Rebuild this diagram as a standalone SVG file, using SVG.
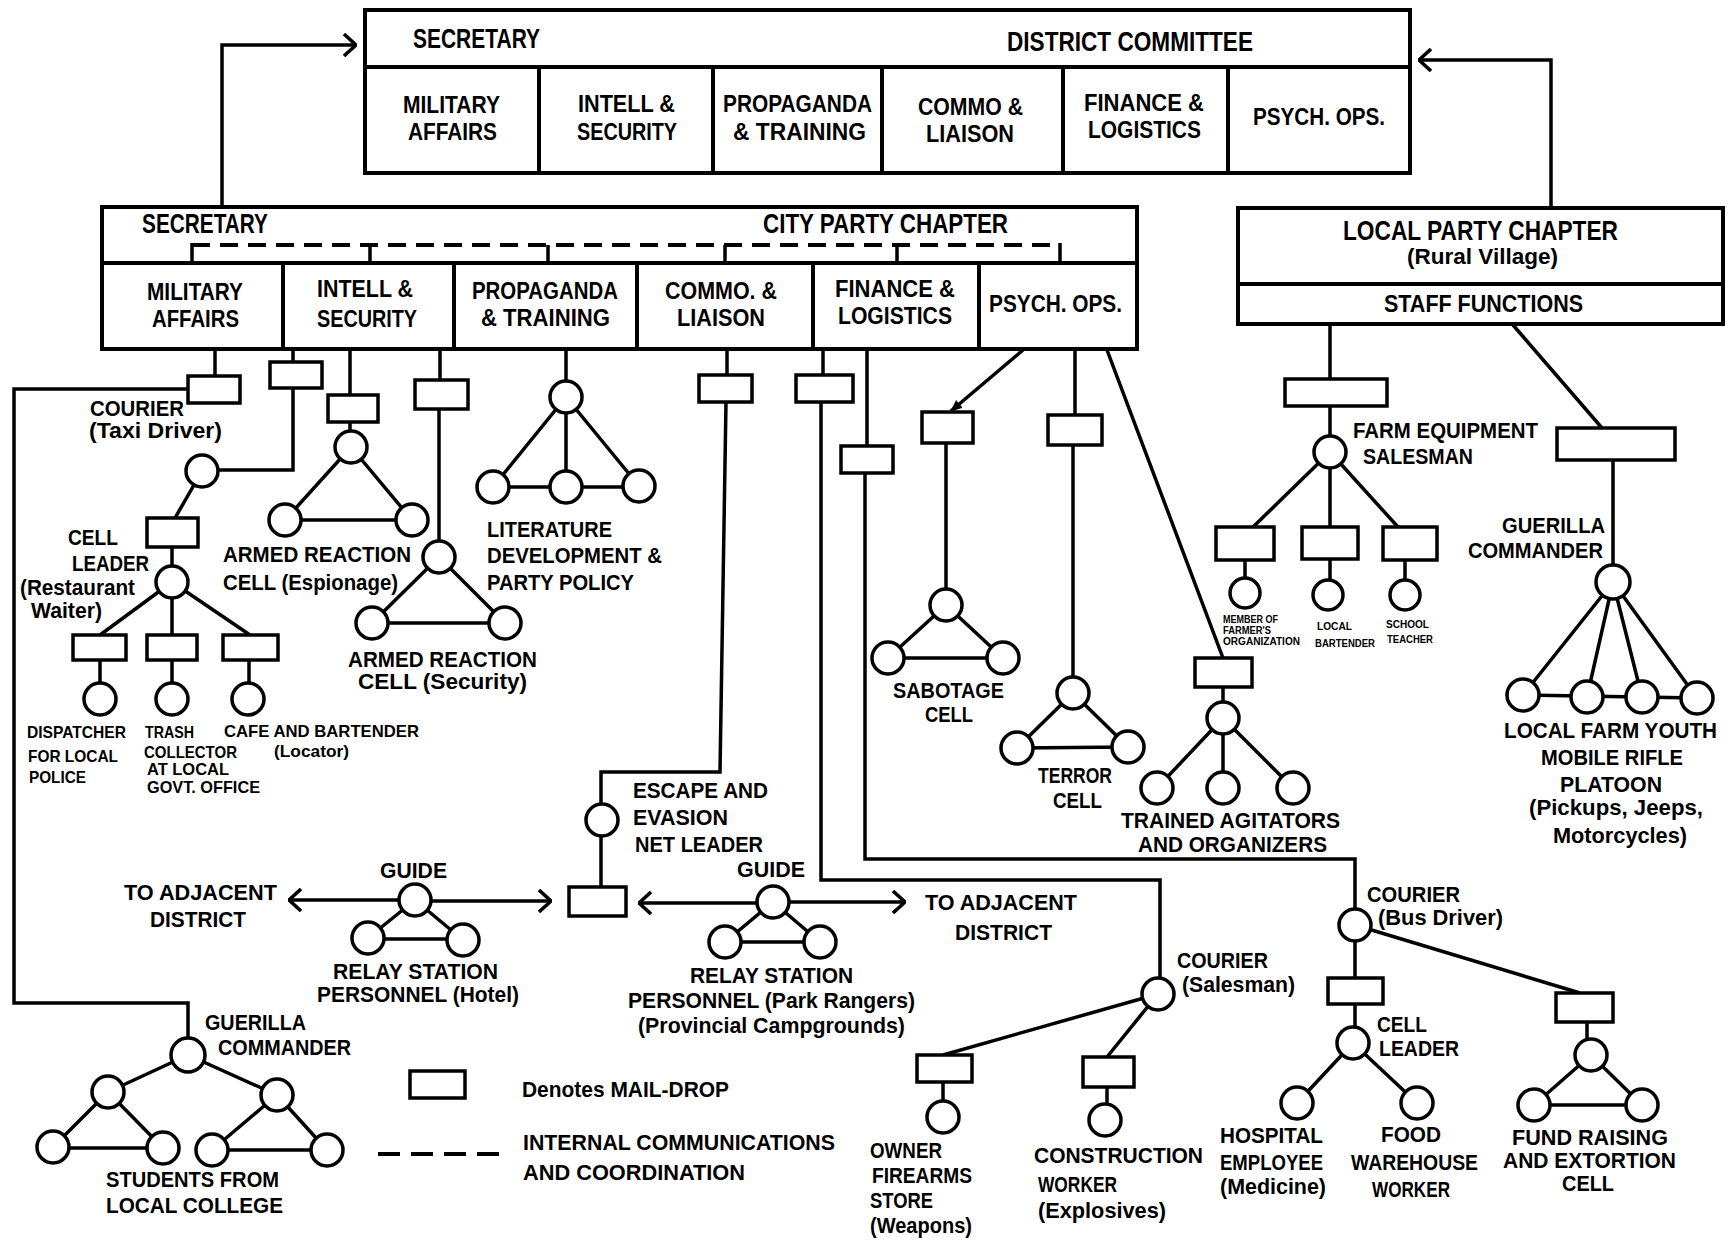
<svg xmlns="http://www.w3.org/2000/svg" width="1729" height="1240" viewBox="0 0 1729 1240">
<style>
.bx{fill:#fff;stroke:#000;stroke-width:4}
.md{fill:#fff;stroke:#000;stroke-width:3.5}
.c{fill:#fff;stroke:#000;stroke-width:3.5}
.ln{fill:none;stroke:#000;stroke-width:3.5;stroke-linejoin:miter}
.dash{fill:none;stroke:#000;stroke-width:4;stroke-dasharray:18 10}
text{font-family:"Liberation Sans",Arial,sans-serif;font-weight:bold;fill:#000}
.h{font-size:28px}.b{font-size:24px}.l{font-size:22px}.s{font-size:16.5px}.xs{font-size:10px}
</style>
<defs>
<marker id="ch" viewBox="0 0 14 24" refX="13" refY="12" markerWidth="14" markerHeight="24" markerUnits="userSpaceOnUse" orient="auto"><path d="M1,1 L13,12 L1,23" fill="none" stroke="#000" stroke-width="3.5"/></marker>
<marker id="tri" viewBox="0 0 12 12" refX="11" refY="6" markerWidth="12" markerHeight="12" markerUnits="userSpaceOnUse" orient="auto"><path d="M0,1 L12,6 L0,11 Z" fill="#000"/></marker>
</defs>
<rect width="1729" height="1240" fill="#fff"/>

<g id="connectors">
<path class="ln" d="M222,207 V45 H356" marker-end="url(#ch)"/>
<path class="ln" d="M1551,208 V60 H1419" marker-end="url(#ch)"/>
<path class="dash" d="M192,245 H1060"/>
<path class="ln" d="M192,243 V263 M370,245 V263 M548,245 V263 M725,245 V263 M897,245 V264 M1060,243 V265"/>
<path class="ln" d="M215,347 V376 M188,389 H14 V1003 H188 V1055"/>
<path class="ln" d="M293,347 V470 H202 M202,471 L175,518 M172,547 V582 M172,582 L100,635 M172,582 V635 M172,582 L250,635 M100,660 V699 M172,660 V699 M249,660 V699"/>
<path class="ln" d="M350,347 V447 M351,447 L285,520 M351,447 L412,520 M285,520 H412"/>
<path class="ln" d="M440,347 V380 M439,409 V557 M439,557 L372,623 M439,557 L505,623 M372,623 H505"/>
<path class="ln" d="M566,350 V397 M566,397 L493,487 M566,397 V487 M566,397 L639,486 M493,487 H639"/>
<path class="ln" d="M727,350 V375 M726,402 L720,772 H601 V887"/>
<path class="ln" d="M823,350 V375 M821,402 V880 H1160 V994"/>
<path class="ln" d="M867,350 V446 M865,473 V859 H1355 V925"/>
<path class="ln" d="M1023,350 L951,411" marker-end="url(#tri)"/>
<path class="ln" d="M946,443 V605 M946,605 L888,658 M946,605 L1003,658 M888,658 H1003"/>
<path class="ln" d="M1075,350 V415 M1073,445 V693 M1073,693 L1017,748 M1073,693 L1128,747 M1017,748 L1128,747"/>
<path class="ln" d="M1107,350 L1223,658 M1223,687 V718 M1223,718 L1157,788 M1223,718 V788 M1223,718 L1293,788"/>
<path class="ln" d="M1330,325 V452 M1330,452 L1253,527 M1330,452 V527 M1330,452 L1398,527 M1245,560 V593 M1330,559 V595 M1405,560 V595"/>
<path class="ln" d="M1513,325 L1602,428 M1613,460 V582 M1613,582 L1523,695 M1613,582 L1587,697 M1613,582 L1642,697 M1613,582 L1697,698 M1523,695 L1697,698"/>
<path class="ln" d="M1158,994 L943,1055 M1158,994 L1107,1057 M943,1082 V1117 M1107,1087 V1120"/>
<path class="ln" d="M1355,925 V1043 M1353,1043 L1297,1103 M1353,1043 L1417,1103 M1355,925 L1580,993 M1587,1022 V1055 M1591,1055 L1534,1105 M1591,1055 L1642,1105 M1534,1105 H1642"/>
<path class="ln" d="M415,900 L368,938 M415,900 L463,940 M368,939 H463"/>
<path class="ln" d="M399,900 H289" marker-end="url(#ch)"/>
<path class="ln" d="M431,901 H551" marker-end="url(#ch)"/>
<path class="ln" d="M773,902 L725,942 M773,902 L820,942 M725,942 H820"/>
<path class="ln" d="M757,903 H639" marker-end="url(#ch)"/>
<path class="ln" d="M789,902 H905" marker-end="url(#ch)"/>
<path class="ln" d="M188,1055 L108,1092 M188,1055 L277,1095 M108,1092 L53,1147 M108,1092 L163,1148 M53,1148 H163 M277,1095 L212,1150 M277,1095 L327,1150 M212,1150 H327"/>
</g>

<g id="district-committee">
<rect class="bx" x="365" y="10" width="1045" height="163"/>
<path class="ln" d="M365,67 H1410 M539,67 V173 M713,67 V173 M882,67 V173 M1063,67 V173 M1228,67 V173" style="stroke-width:4"/>
<text class="h" x="413" y="48" textLength="127" lengthAdjust="spacingAndGlyphs">SECRETARY</text>
<text class="h" x="1007" y="51" textLength="246" lengthAdjust="spacingAndGlyphs">DISTRICT COMMITTEE</text>
<text class="b" x="403" y="113" textLength="97" lengthAdjust="spacingAndGlyphs">MILITARY</text>
<text class="b" x="408" y="140" textLength="89" lengthAdjust="spacingAndGlyphs">AFFAIRS</text>
<text class="b" x="578" y="112" textLength="97" lengthAdjust="spacingAndGlyphs">INTELL &amp;</text>
<text class="b" x="577" y="140" textLength="100" lengthAdjust="spacingAndGlyphs">SECURITY</text>
<text class="b" x="723" y="112" textLength="149" lengthAdjust="spacingAndGlyphs">PROPAGANDA</text>
<text class="b" x="733" y="140" textLength="133" lengthAdjust="spacingAndGlyphs">&amp; TRAINING</text>
<text class="b" x="918" y="115" textLength="105" lengthAdjust="spacingAndGlyphs">COMMO &amp;</text>
<text class="b" x="926" y="142" textLength="88" lengthAdjust="spacingAndGlyphs">LIAISON</text>
<text class="b" x="1084" y="111" textLength="120" lengthAdjust="spacingAndGlyphs">FINANCE &amp;</text>
<text class="b" x="1088" y="138" textLength="113" lengthAdjust="spacingAndGlyphs">LOGISTICS</text>
<text class="b" x="1253" y="125" textLength="132" lengthAdjust="spacingAndGlyphs">PSYCH. OPS.</text>
</g>

<g id="city-party-chapter">
<rect class="bx" x="102" y="207" width="1035" height="142" style="fill:none"/>
<path class="ln" d="M102,263 H1137 M283,263 V349 M454,263 V349 M637,263 V349 M813,263 V349 M979,263 V349" style="stroke-width:4"/>
<text class="h" x="142" y="233" textLength="126" lengthAdjust="spacingAndGlyphs">SECRETARY</text>
<text class="h" x="763" y="233" textLength="245" lengthAdjust="spacingAndGlyphs">CITY PARTY CHAPTER</text>
<text class="b" x="147" y="300" textLength="96" lengthAdjust="spacingAndGlyphs">MILITARY</text>
<text class="b" x="152" y="327" textLength="87" lengthAdjust="spacingAndGlyphs">AFFAIRS</text>
<text class="b" x="317" y="297" textLength="96" lengthAdjust="spacingAndGlyphs">INTELL &amp;</text>
<text class="b" x="317" y="327" textLength="100" lengthAdjust="spacingAndGlyphs">SECURITY</text>
<text class="b" x="472" y="299" textLength="146" lengthAdjust="spacingAndGlyphs">PROPAGANDA</text>
<text class="b" x="481" y="326" textLength="129" lengthAdjust="spacingAndGlyphs">&amp; TRAINING</text>
<text class="b" x="665" y="299" textLength="112" lengthAdjust="spacingAndGlyphs">COMMO. &amp;</text>
<text class="b" x="677" y="326" textLength="88" lengthAdjust="spacingAndGlyphs">LIAISON</text>
<text class="b" x="835" y="297" textLength="120" lengthAdjust="spacingAndGlyphs">FINANCE &amp;</text>
<text class="b" x="838" y="324" textLength="114" lengthAdjust="spacingAndGlyphs">LOGISTICS</text>
<text class="b" x="989" y="312" textLength="133" lengthAdjust="spacingAndGlyphs">PSYCH. OPS.</text>
</g>

<g id="local-party-chapter">
<rect class="bx" x="1238" y="208" width="485" height="116"/>
<path class="ln" d="M1238,284 H1723" style="stroke-width:4"/>
<text class="h" x="1343" y="240" textLength="275" lengthAdjust="spacingAndGlyphs">LOCAL PARTY CHAPTER</text>
<text class="l" x="1407" y="264" textLength="151" lengthAdjust="spacingAndGlyphs">(Rural Village)</text>
<text class="b" x="1384" y="312" textLength="199" lengthAdjust="spacingAndGlyphs">STAFF FUNCTIONS</text>
</g>

<g id="courier-taxi">
<rect class="md" x="188" y="376" width="52" height="27"/>
<text class="l" x="90" y="416" textLength="94" lengthAdjust="spacingAndGlyphs">COURIER</text>
<text class="l" x="89" y="438" textLength="133" lengthAdjust="spacingAndGlyphs">(Taxi Driver)</text>
</g>

<g id="intell-cell">
<rect class="md" x="270" y="362" width="52" height="26"/>
<circle class="c" cx="202" cy="471" r="16"/>
<rect class="md" x="147" y="518" width="51" height="29"/>
<circle class="c" cx="172" cy="582" r="16"/>
<rect class="md" x="73" y="635" width="53" height="25"/>
<rect class="md" x="147" y="635" width="50" height="25"/>
<rect class="md" x="223" y="635" width="55" height="25"/>
<circle class="c" cx="100" cy="699" r="16"/>
<circle class="c" cx="172" cy="699" r="16"/>
<circle class="c" cx="248" cy="699" r="16"/>
<text class="l" x="68" y="545" textLength="50" lengthAdjust="spacingAndGlyphs">CELL</text>
<text class="l" x="72" y="571" textLength="77" lengthAdjust="spacingAndGlyphs">LEADER</text>
<text class="l" x="20" y="595" textLength="115" lengthAdjust="spacingAndGlyphs">(Restaurant</text>
<text class="l" x="31" y="618" textLength="71" lengthAdjust="spacingAndGlyphs">Waiter)</text>
<text class="s" x="27" y="738" textLength="99" lengthAdjust="spacingAndGlyphs">DISPATCHER</text>
<text class="s" x="28" y="762" textLength="90" lengthAdjust="spacingAndGlyphs">FOR LOCAL</text>
<text class="s" x="29" y="783" textLength="57" lengthAdjust="spacingAndGlyphs">POLICE</text>
<text class="s" x="145" y="738" textLength="49" lengthAdjust="spacingAndGlyphs">TRASH</text>
<text class="s" x="144" y="758" textLength="93" lengthAdjust="spacingAndGlyphs">COLLECTOR</text>
<text class="s" x="147" y="775" textLength="82" lengthAdjust="spacingAndGlyphs">AT LOCAL</text>
<text class="s" x="147" y="793" textLength="113" lengthAdjust="spacingAndGlyphs">GOVT. OFFICE</text>
<text class="s" x="224" y="737" textLength="195" lengthAdjust="spacingAndGlyphs">CAFE AND BARTENDER</text>
<text class="s" x="274" y="757" textLength="75" lengthAdjust="spacingAndGlyphs">(Locator)</text>
</g>

<g id="armed-reaction-espionage">
<rect class="md" x="328" y="395" width="50" height="27"/>
<circle class="c" cx="351" cy="447" r="16"/>
<circle class="c" cx="285" cy="520" r="16"/>
<circle class="c" cx="412" cy="520" r="16"/>
<text class="l" x="223" y="562" textLength="188" lengthAdjust="spacingAndGlyphs">ARMED REACTION</text>
<text class="l" x="223" y="590" textLength="175" lengthAdjust="spacingAndGlyphs">CELL (Espionage)</text>
</g>

<g id="armed-reaction-security">
<rect class="md" x="415" y="380" width="53" height="29"/>
<circle class="c" cx="439" cy="557" r="16"/>
<circle class="c" cx="372" cy="623" r="16"/>
<circle class="c" cx="505" cy="623" r="16"/>
<text class="l" x="348" y="667" textLength="189" lengthAdjust="spacingAndGlyphs">ARMED REACTION</text>
<text class="l" x="358" y="689" textLength="169" lengthAdjust="spacingAndGlyphs">CELL  (Security)</text>
</g>

<g id="literature">
<circle class="c" cx="566" cy="397" r="16"/>
<circle class="c" cx="493" cy="487" r="16"/>
<circle class="c" cx="566" cy="487" r="16"/>
<circle class="c" cx="639" cy="486" r="16"/>
<text class="l" x="487" y="537" textLength="125" lengthAdjust="spacingAndGlyphs">LITERATURE</text>
<text class="l" x="487" y="563" textLength="175" lengthAdjust="spacingAndGlyphs">DEVELOPMENT &amp;</text>
<text class="l" x="487" y="590" textLength="147" lengthAdjust="spacingAndGlyphs">PARTY POLICY</text>
</g>

<g id="escape-net">
<rect class="md" x="699" y="375" width="53" height="27"/>
<circle class="c" cx="602" cy="820" r="16"/>
<rect class="md" x="569" y="887" width="57" height="29"/>
<text class="l" x="633" y="798" textLength="135" lengthAdjust="spacingAndGlyphs">ESCAPE AND</text>
<text class="l" x="633" y="825" textLength="95" lengthAdjust="spacingAndGlyphs">EVASION</text>
<text class="l" x="635" y="852" textLength="128" lengthAdjust="spacingAndGlyphs">NET LEADER</text>
</g>

<g id="relay-hotel">
<circle class="c" cx="415" cy="900" r="16"/>
<circle class="c" cx="368" cy="938" r="16"/>
<circle class="c" cx="463" cy="940" r="16"/>
<text class="l" x="380" y="878" textLength="67" lengthAdjust="spacingAndGlyphs">GUIDE</text>
<text class="l" x="124" y="900" textLength="153" lengthAdjust="spacingAndGlyphs">TO ADJACENT</text>
<text class="l" x="150" y="927" textLength="96" lengthAdjust="spacingAndGlyphs">DISTRICT</text>
<text class="l" x="333" y="979" textLength="165" lengthAdjust="spacingAndGlyphs">RELAY STATION</text>
<text class="l" x="317" y="1002" textLength="202" lengthAdjust="spacingAndGlyphs">PERSONNEL (Hotel)</text>
</g>

<g id="relay-park">
<circle class="c" cx="773" cy="902" r="16"/>
<circle class="c" cx="725" cy="942" r="16"/>
<circle class="c" cx="820" cy="942" r="16"/>
<text class="l" x="737" y="877" textLength="68" lengthAdjust="spacingAndGlyphs">GUIDE</text>
<text class="l" x="925" y="910" textLength="152" lengthAdjust="spacingAndGlyphs">TO ADJACENT</text>
<text class="l" x="955" y="940" textLength="97" lengthAdjust="spacingAndGlyphs">DISTRICT</text>
<text class="l" x="690" y="983" textLength="163" lengthAdjust="spacingAndGlyphs">RELAY STATION</text>
<text class="l" x="628" y="1008" textLength="287" lengthAdjust="spacingAndGlyphs">PERSONNEL  (Park Rangers)</text>
<text class="l" x="638" y="1033" textLength="267" lengthAdjust="spacingAndGlyphs">(Provincial Campgrounds)</text>
</g>

<g id="guerilla-students">
<circle class="c" cx="188" cy="1055" r="17"/>
<circle class="c" cx="108" cy="1092" r="16"/>
<circle class="c" cx="277" cy="1095" r="16"/>
<circle class="c" cx="53" cy="1147" r="16"/>
<circle class="c" cx="163" cy="1148" r="16"/>
<circle class="c" cx="212" cy="1150" r="16"/>
<circle class="c" cx="327" cy="1150" r="16"/>
<text class="l" x="205" y="1030" textLength="101" lengthAdjust="spacingAndGlyphs">GUERILLA</text>
<text class="l" x="218" y="1055" textLength="133" lengthAdjust="spacingAndGlyphs">COMMANDER</text>
<text class="l" x="106" y="1187" textLength="173" lengthAdjust="spacingAndGlyphs">STUDENTS FROM</text>
<text class="l" x="106" y="1213" textLength="177" lengthAdjust="spacingAndGlyphs">LOCAL COLLEGE</text>
</g>

<g id="legend">
<rect class="md" x="410" y="1071" width="55" height="27"/>
<path d="M378,1154 H502" style="fill:none;stroke:#000;stroke-width:4;stroke-dasharray:22 11"/>
<text class="l" x="522" y="1097" textLength="207" lengthAdjust="spacingAndGlyphs">Denotes MAIL-DROP</text>
<text class="l" x="523" y="1150" textLength="312" lengthAdjust="spacingAndGlyphs">INTERNAL COMMUNICATIONS</text>
<text class="l" x="523" y="1180" textLength="222" lengthAdjust="spacingAndGlyphs">AND COORDINATION</text>
</g>

<g id="finance-drops">
<rect class="md" x="796" y="375" width="57" height="27"/>
<rect class="md" x="841" y="446" width="52" height="27"/>
</g>

<g id="sabotage-cell">
<rect class="md" x="922" y="412" width="51" height="31"/>
<circle class="c" cx="946" cy="605" r="16"/>
<circle class="c" cx="888" cy="658" r="16"/>
<circle class="c" cx="1003" cy="658" r="16"/>
<text class="l" x="893" y="698" textLength="111" lengthAdjust="spacingAndGlyphs">SABOTAGE</text>
<text class="l" x="925" y="722" textLength="48" lengthAdjust="spacingAndGlyphs">CELL</text>
</g>

<g id="terror-cell">
<rect class="md" x="1048" y="415" width="54" height="30"/>
<circle class="c" cx="1073" cy="693" r="16"/>
<circle class="c" cx="1017" cy="748" r="16"/>
<circle class="c" cx="1128" cy="747" r="16"/>
<text class="l" x="1038" y="783" textLength="74" lengthAdjust="spacingAndGlyphs">TERROR</text>
<text class="l" x="1053" y="808" textLength="49" lengthAdjust="spacingAndGlyphs">CELL</text>
</g>

<g id="trained-agitators">
<rect class="md" x="1195" y="658" width="57" height="29"/>
<circle class="c" cx="1223" cy="718" r="16"/>
<circle class="c" cx="1157" cy="788" r="16"/>
<circle class="c" cx="1223" cy="788" r="16"/>
<circle class="c" cx="1293" cy="788" r="16"/>
<text class="l" x="1121" y="828" textLength="219" lengthAdjust="spacingAndGlyphs">TRAINED AGITATORS</text>
<text class="l" x="1138" y="852" textLength="189" lengthAdjust="spacingAndGlyphs">AND ORGANIZERS</text>
</g>

<g id="farm-equipment">
<rect class="md" x="1285" y="379" width="102" height="27"/>
<circle class="c" cx="1330" cy="452" r="16"/>
<rect class="md" x="1216" y="527" width="58" height="33"/>
<rect class="md" x="1302" y="527" width="56" height="32"/>
<rect class="md" x="1383" y="527" width="54" height="33"/>
<circle class="c" cx="1245" cy="593" r="15"/>
<circle class="c" cx="1328" cy="595" r="15"/>
<circle class="c" cx="1405" cy="595" r="15"/>
<text class="l" x="1353" y="438" textLength="185" lengthAdjust="spacingAndGlyphs">FARM EQUIPMENT</text>
<text class="l" x="1363" y="464" textLength="110" lengthAdjust="spacingAndGlyphs">SALESMAN</text>
<text class="xs" x="1223" y="623" textLength="55" lengthAdjust="spacingAndGlyphs">MEMBER OF</text>
<text class="xs" x="1223" y="634" textLength="48" lengthAdjust="spacingAndGlyphs">FARMER'S</text>
<text class="xs" x="1223" y="645" textLength="77" lengthAdjust="spacingAndGlyphs">ORGANIZATION</text>
<text class="xs" x="1317" y="630" textLength="35" lengthAdjust="spacingAndGlyphs">LOCAL</text>
<text class="xs" x="1315" y="647" textLength="60" lengthAdjust="spacingAndGlyphs">BARTENDER</text>
<text class="xs" x="1386" y="628" textLength="43" lengthAdjust="spacingAndGlyphs">SCHOOL</text>
<text class="xs" x="1387" y="643" textLength="46" lengthAdjust="spacingAndGlyphs">TEACHER</text>
</g>

<g id="guerilla-rural">
<rect class="md" x="1557" y="428" width="118" height="32"/>
<circle class="c" cx="1613" cy="582" r="17"/>
<circle class="c" cx="1523" cy="695" r="16"/>
<circle class="c" cx="1587" cy="697" r="16"/>
<circle class="c" cx="1642" cy="697" r="16"/>
<circle class="c" cx="1697" cy="698" r="16"/>
<text class="l" x="1502" y="533" textLength="103" lengthAdjust="spacingAndGlyphs">GUERILLA</text>
<text class="l" x="1468" y="558" textLength="135" lengthAdjust="spacingAndGlyphs">COMMANDER</text>
<text class="l" x="1504" y="738" textLength="213" lengthAdjust="spacingAndGlyphs">LOCAL FARM YOUTH</text>
<text class="l" x="1541" y="765" textLength="142" lengthAdjust="spacingAndGlyphs">MOBILE RIFLE</text>
<text class="l" x="1560" y="792" textLength="102" lengthAdjust="spacingAndGlyphs">PLATOON</text>
<text class="l" x="1529" y="815" textLength="174" lengthAdjust="spacingAndGlyphs">(Pickups, Jeeps,</text>
<text class="l" x="1553" y="843" textLength="134" lengthAdjust="spacingAndGlyphs">Motorcycles)</text>
</g>

<g id="courier-salesman">
<circle class="c" cx="1158" cy="994" r="16"/>
<rect class="md" x="917" y="1055" width="55" height="27"/>
<rect class="md" x="1083" y="1057" width="51" height="30"/>
<circle class="c" cx="943" cy="1117" r="16"/>
<circle class="c" cx="1105" cy="1120" r="16"/>
<text class="l" x="1177" y="968" textLength="91" lengthAdjust="spacingAndGlyphs">COURIER</text>
<text class="l" x="1182" y="992" textLength="113" lengthAdjust="spacingAndGlyphs">(Salesman)</text>
<text class="l" x="870" y="1158" textLength="72" lengthAdjust="spacingAndGlyphs">OWNER</text>
<text class="l" x="872" y="1183" textLength="100" lengthAdjust="spacingAndGlyphs">FIREARMS</text>
<text class="l" x="870" y="1208" textLength="63" lengthAdjust="spacingAndGlyphs">STORE</text>
<text class="l" x="870" y="1233" textLength="102" lengthAdjust="spacingAndGlyphs">(Weapons)</text>
<text class="l" x="1034" y="1163" textLength="169" lengthAdjust="spacingAndGlyphs">CONSTRUCTION</text>
<text class="l" x="1038" y="1192" textLength="79" lengthAdjust="spacingAndGlyphs">WORKER</text>
<text class="l" x="1038" y="1218" textLength="128" lengthAdjust="spacingAndGlyphs">(Explosives)</text>
</g>

<g id="courier-bus">
<circle class="c" cx="1355" cy="925" r="16"/>
<rect class="md" x="1328" y="978" width="55" height="26"/>
<circle class="c" cx="1353" cy="1043" r="16"/>
<circle class="c" cx="1297" cy="1103" r="16"/>
<circle class="c" cx="1417" cy="1103" r="16"/>
<text class="l" x="1367" y="902" textLength="93" lengthAdjust="spacingAndGlyphs">COURIER</text>
<text class="l" x="1378" y="925" textLength="125" lengthAdjust="spacingAndGlyphs">(Bus Driver)</text>
<text class="l" x="1377" y="1032" textLength="50" lengthAdjust="spacingAndGlyphs">CELL</text>
<text class="l" x="1379" y="1056" textLength="80" lengthAdjust="spacingAndGlyphs">LEADER</text>
<text class="l" x="1220" y="1143" textLength="103" lengthAdjust="spacingAndGlyphs">HOSPITAL</text>
<text class="l" x="1220" y="1170" textLength="103" lengthAdjust="spacingAndGlyphs">EMPLOYEE</text>
<text class="l" x="1220" y="1194" textLength="106" lengthAdjust="spacingAndGlyphs">(Medicine)</text>
<text class="l" x="1381" y="1142" textLength="60" lengthAdjust="spacingAndGlyphs">FOOD</text>
<text class="l" x="1351" y="1170" textLength="127" lengthAdjust="spacingAndGlyphs">WAREHOUSE</text>
<text class="l" x="1372" y="1197" textLength="78" lengthAdjust="spacingAndGlyphs">WORKER</text>
</g>

<g id="fund-raising">
<rect class="md" x="1556" y="993" width="57" height="29"/>
<circle class="c" cx="1591" cy="1055" r="16"/>
<circle class="c" cx="1534" cy="1105" r="16"/>
<circle class="c" cx="1642" cy="1105" r="16"/>
<text class="l" x="1512" y="1145" textLength="156" lengthAdjust="spacingAndGlyphs">FUND RAISING</text>
<text class="l" x="1503" y="1168" textLength="173" lengthAdjust="spacingAndGlyphs">AND EXTORTION</text>
<text class="l" x="1562" y="1191" textLength="52" lengthAdjust="spacingAndGlyphs">CELL</text>
</g>
</svg>
